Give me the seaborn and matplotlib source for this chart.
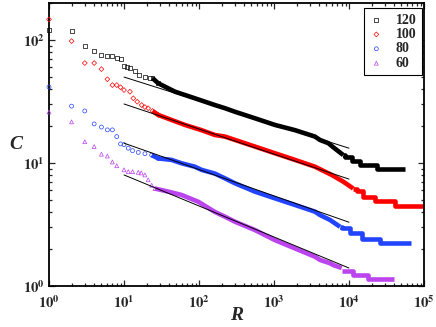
import numpy as np
import pandas as pd
import matplotlib
matplotlib.use("Agg")
import matplotlib.pyplot as plt
import matplotlib.ticker as mticker
import seaborn as sns

# ---------------- data ----------------
labels = ["120", "100", "80", "60"]
colors = ["#000000", "#ff0000", "#2244ff", "#bb44ee"]
markers = ["s", "D", "o", "^"]

# sparse markers (small R)
r_pts_120 = [1, 2, 3, 4, 5, 6, 7, 8, 9, 10, 11, 12, 14, 16, 19, 22, 24, 28.6]
c_pts_120 = [120, 118, 89, 82, 75, 74, 74, 72, 70, 61, 60, 59, 56, 52, 50.3, 49.5, 49, 44.5]
r_pts_100 = [1, 2, 3, 4, 5, 6, 7, 8, 9, 10, 12, 13.3, 15, 17.2, 19, 21, 24, 28.6]
c_pts_100 = [147, 98, 65, 65, 58, 48, 43, 43, 41.3, 39.2, 38, 33.6, 31.5, 29.6, 28.5, 27.9, 26.5, 24.6]
r_pts_80 = [1, 2, 3, 4, 5, 6, 7, 8, 9, 10, 11.4, 13, 15.5, 19, 23.4, 28.6]
c_pts_80 = [41.5, 29, 26.5, 20.8, 19.6, 18.6, 18.6, 16.4, 14.3, 14.1, 13.2, 12.6, 12.2, 11.9, 11.6, 10.9]
r_pts_60 = [1, 2, 3, 4, 5, 6, 7, 8, 10, 11.4, 13, 15.5, 17, 19, 21, 23.4, 25.9]
c_pts_60 = [26, 21.6, 14.9, 13.6, 11.8, 11.4, 10.2, 9.5, 8.8, 8.5, 8.5, 8.4, 8.3, 8.0, 7.3, 6.6, 6.2]

# dense band (overlapping markers)
r_band_120 = [24, 28.6, 48, 88, 163, 222, 302, 558, 1030, 1905, 3520, 4100, 5300, 6200, 8400]
c_band_120 = [49, 44.5, 38, 33.6, 29.6, 27.9, 26.1, 23.1, 20.4, 18.5, 16.4, 15.4, 14.5, 13.4, 11.6]
r_band_100 = [24, 28.6, 43, 65, 108, 163, 222, 302, 558, 1030, 1905, 3520, 5880, 8400, 11400]
c_band_100 = [26.5, 24.6, 22.4, 20.4, 18.5, 16.9, 16.4, 15.4, 13.6, 12.0, 10.6, 9.33, 8.0, 7.05, 6.2]
r_band_80 = [23.4, 28.6, 43, 58.5, 88, 108, 163, 222, 302, 558, 1030, 1905, 3520, 4100, 5600, 7600]
c_band_80 = [11.6, 10.9, 10.6, 9.95, 9.33, 8.8, 8.2, 7.5, 6.84, 5.85, 5.16, 4.56, 4.02, 3.78, 3.44, 3.03]
r_band_60 = [25.9, 39, 58.5, 98, 163, 222, 302, 558, 1030, 1905, 3520, 4100, 5600, 6170, 8000]
c_band_60 = [6.2, 5.85, 5.5, 4.84, 4.0, 3.66, 3.33, 2.85, 2.36, 2.02, 1.73, 1.63, 1.53, 1.48, 1.4]

# stepped tails (plateau start R, plateau level C)
r_tail_120 = [8400, 8850, 11000, 14000, 23600, 55800]
c_tail_120 = [11.6, 11.2, 10.3, 9.6, 9.0, 9.0]
r_tail_100 = [11400, 12600, 15500, 22200, 41000, 100000]
c_tail_100 = [6.2, 5.9, 5.26, 4.9, 4.5, 4.5]
r_tail_80 = [7600, 8000, 10300, 14800, 26000, 66500]
c_tail_80 = [3.03, 2.95, 2.72, 2.4, 2.25, 2.25]
r_tail_60 = [8000, 11400, 18100, 39800]
c_tail_60 = [1.33, 1.22, 1.13, 1.13]

# straight power-law fit lines
r_fit = [10, 10000]
c_fit_120 = [50, 13.2]
c_fit_100 = [30.2, 7.4]
c_fit_80 = [14.5, 3.3]
c_fit_60 = [8.0, 1.4]

pts = [(r_pts_120, c_pts_120), (r_pts_100, c_pts_100), (r_pts_80, c_pts_80), (r_pts_60, c_pts_60)]
bands = [(r_band_120, c_band_120), (r_band_100, c_band_100), (r_band_80, c_band_80), (r_band_60, c_band_60)]
tails = [(r_tail_120, c_tail_120), (r_tail_100, c_tail_100), (r_tail_80, c_tail_80), (r_tail_60, c_tail_60)]
fits = [c_fit_120, c_fit_100, c_fit_80, c_fit_60]

# ---------------- drawing ----------------
sns.set_style("ticks")
plt.rcParams["mathtext.fontset"] = "stix"
plt.rcParams["font.family"] = ["Liberation Serif", "DejaVu Serif"]

fig = plt.figure(figsize=(4.36, 3.27), dpi=100)
ax = fig.add_axes([0.1124, 0.1254, 0.860, 0.8654])
ax.set_xscale("log")
ax.set_yscale("log")

for i in range(4):
    col = colors[i]
    rb, cb = bands[i]
    sns.lineplot(x=rb, y=cb, ax=ax, color=col, linewidth=3.3, estimator=None,
                 sort=False, solid_capstyle="butt", legend=False, zorder=2)
    rt, ct = tails[i]
    sns.lineplot(x=rt, y=ct, ax=ax, color=col, linewidth=3.3, estimator=None,
                 sort=False, drawstyle="steps-post", solid_capstyle="butt",
                 legend=False, zorder=2)
    rp, cp = pts[i]
    sns.scatterplot(x=rp, y=cp, ax=ax, marker=markers[i],
                    s=8 if markers[i] != "D" else 6,
                    facecolor="none", edgecolor=col, linewidth=0.5,
                    label=labels[i], zorder=3, clip_on=False)

for i in range(4):
    sns.lineplot(x=r_fit, y=fits[i], ax=ax, color="black", linewidth=0.7,
                 estimator=None, legend=False, zorder=4)

ax.set_xlim(1, 1e5)
ax.set_ylim(1, 200)

fmt = mticker.FuncFormatter(lambda v, p: r"$\mathbf{10^{%d}}$" % int(round(np.log10(v))))
for axis in (ax.xaxis, ax.yaxis):
    axis.set_major_locator(mticker.LogLocator(base=10, numticks=10))
    axis.set_minor_locator(mticker.LogLocator(base=10, subs=np.arange(2, 10), numticks=20))
    axis.set_major_formatter(fmt)
    axis.set_minor_formatter(mticker.NullFormatter())

ax.tick_params(which="both", direction="in", top=True, right=True, width=0.9)
ax.tick_params(which="major", length=4, labelsize=10.5)
ax.tick_params(axis="x", which="major", pad=6)
ax.tick_params(axis="y", which="major", pad=3)
ax.tick_params(which="minor", length=2)
for sp in ax.spines.values():
    sp.set_linewidth(1.3)
    sp.set_color("black")

ax.set_xlabel("R", fontsize=14, fontstyle="italic", fontweight="bold", labelpad=-3)
ax.set_ylabel("C", fontsize=14, fontstyle="italic", fontweight="bold", rotation=0,
              labelpad=5, va="center")

leg = ax.legend(loc="upper right", bbox_to_anchor=(0.995, 0.982), frameon=True,
                fancybox=False, edgecolor="black", framealpha=1, borderaxespad=0,
                prop={"family": "Liberation Serif", "weight": "bold", "size": 10},
                handlelength=1.0, handletextpad=0.9, labelspacing=0.1,
                borderpad=0.4, markerscale=1.0)
leg.get_frame().set_linewidth(0.8)

fig.savefig("out.png", dpi=100)
